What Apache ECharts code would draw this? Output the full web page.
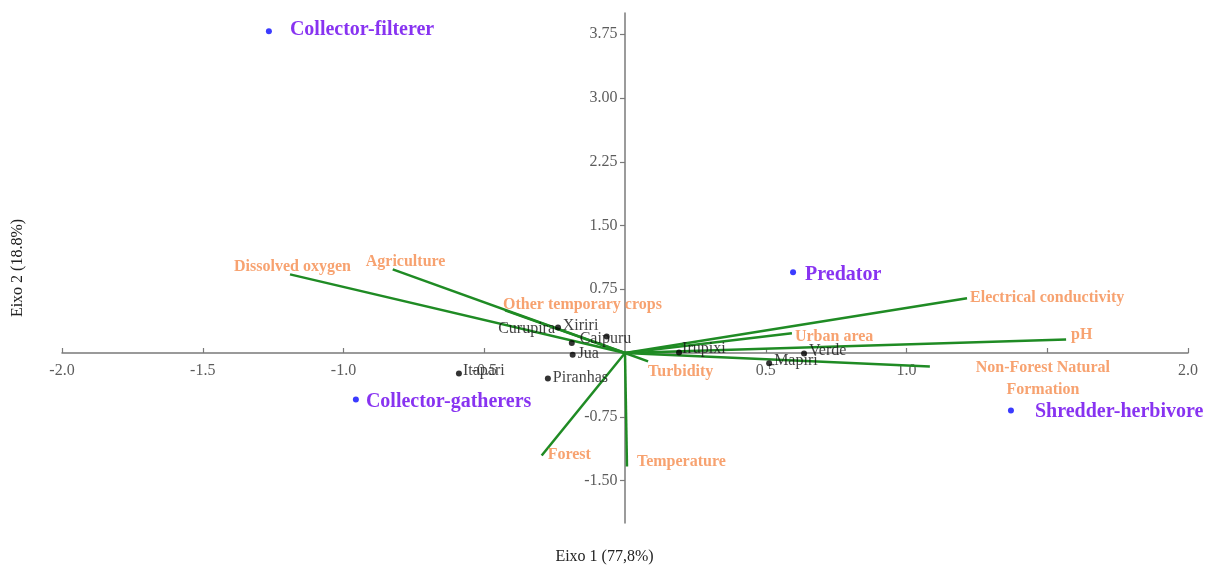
<!DOCTYPE html>
<html>
<head>
<meta charset="utf-8">
<script src="https://cdn.jsdelivr.net/npm/echarts@6/dist/echarts.min.js"></script>
<style>
html,body{margin:0;padding:0;background:#fff;}
#chart{width:1209px;height:568px;}
</style>
</head>
<body>
<div id="chart"></div>
<script>
// ---- data ----
const sites = ['Curupira','Xiriri','Caipuru','Jua','Piranhas','Itapari','Irupixi','Verde','Mapiri'];
const siteX = [-0.238,-0.189,-0.065,-0.186,-0.274,-0.590,0.192,0.636,0.512];
const siteY = [0.301,0.117,0.195,-0.020,-0.299,-0.240,0.007,-0.005,-0.122];

const groups = ['Collector-filterer','Predator','Collector-gatherers','Shredder-herbivore'];
const groupX = [-1.265,0.597,-0.956,1.371];
const groupY = [3.786,0.949,-0.546,-0.676];

const variables = ['Dissolved oxygen','Agriculture','Other temporary crops','Electrical conductivity','pH','Urban area','Non-Forest Natural\nFormation','Turbidity','Forest','Temperature'];
const varX = [-1.190,-0.825,-0.426,1.215,1.567,0.593,1.083,0.082,-0.296,0.007];
const varY = [0.925,0.984,0.502,0.643,0.160,0.231,-0.158,-0.099,-1.205,-1.335];

const xTicks = [-2,-1.5,-1,-0.5,0.5,1,1.5,2];
const yTicks = [-1.5,-0.75,0.75,1.5,2.25,3,3.75];
const xTicksCovered = [1.5]; // tick labels hidden under the "Non-Forest Natural" label

const xTitle = 'Eixo 1 (77,8%)';
const yTitle = 'Eixo 2 (18.8%)';

// ---- label layout (pixel offsets of text relative to point) ----
const siteLabelPos = [[-3,1,'right'],[-9,-17],[-27,2],[5,-1],[5,-1],[4,-3],[3,-4],[5,-3],[5,-3]];
const groupLabelPos = [[21,-1],[12,2],[10,2],[24,1]];
const varLabelPos = [[-56,-8],[-27,-8],[-2,-5],[3,0],[5,-5],[3,3],[113,12,'center'],[0,10],[6,-1],[10,-5]];

const FONT = '"Liberation Serif","Times New Roman",serif';
const GREEN = '#1f8b24';
const ORANGE = '#f58b4c';
const PURPLE = '#6a00ee';
const AXIS = '#7a7a7a';

function lbl(p, size){
  const align = p[2] || 'left';
  return {
    show:true, position:'right', distance:0, align:align, verticalAlign:'middle',
    offset:[p[0]-size/2, p[1]]
  };
}

const siteData = sites.map((n,i)=>({
  name:n, value:[siteX[i],siteY[i]],
  label: siteLabelPos[i][2]==='right'
    ? {show:true, position:'left', distance:0, align:'right', verticalAlign:'middle', offset:[siteLabelPos[i][0]+3, siteLabelPos[i][1]]}
    : lbl(siteLabelPos[i],6)
}));
const groupData = groups.map((n,i)=>({name:n, value:[groupX[i],groupY[i]], label:lbl(groupLabelPos[i],6)}));
const varLabelData = variables.map((n,i)=>({name:n, value:[varX[i],varY[i]], label:lbl(varLabelPos[i],1)}));
const vectorData = variables.map((n,i)=>({coords:[[0,0],[varX[i],varY[i]]]}));

// tick labels placed on the zero-crossing axes
const xTickLabelData = xTicks.map(v=>({name:v.toFixed(1), value:[v,0], label:{show: xTicksCovered.indexOf(v)<0}}));
const yTickLabelData = yTicks.map(v=>({name:v.toFixed(2), value:[0,v]}));

const chart = echarts.init(document.getElementById('chart'), null, {renderer:'canvas'});
chart.setOption({
  animation:false,
  backgroundColor:'#ffffff',
  grid:{left:62,right:21,top:13,bottom:45,containLabel:false},
  xAxis:{
    type:'value', min:-2, max:2,
    axisLine:{show:true,onZero:true,lineStyle:{color:AXIS,width:1.5}},
    axisTick:{show:true,inside:true,length:5,customValues:xTicks,lineStyle:{color:AXIS,width:1.2}},
    axisLabel:{show:false},
    splitLine:{show:false}
  },
  yAxis:{
    type:'value', min:-2, max:4,
    axisLine:{show:true,onZero:true,lineStyle:{color:AXIS,width:1.5}},
    axisTick:{show:true,inside:false,length:5,customValues:yTicks,lineStyle:{color:AXIS,width:1.2}},
    axisLabel:{show:false},
    splitLine:{show:false}
  },
  graphic:[
    {type:'text',left:'center',top:549,style:{text:xTitle,font:'16px '+FONT,fill:'#222'}},
    {type:'text',x:18,y:268,rotation:Math.PI/2,style:{text:yTitle,font:'16px '+FONT,fill:'#222',align:'center',verticalAlign:'middle'}}
  ],
  series:[
    {
      type:'scatter', z:2, symbolSize:1, silent:true, itemStyle:{color:'rgba(0,0,0,0)'},
      label:{show:true,position:'bottom',distance:9,color:'#333',fontFamily:FONT,fontSize:16,formatter:'{b}'},
      data:xTickLabelData
    },
    {
      type:'scatter', z:2, symbolSize:1, silent:true, itemStyle:{color:'rgba(0,0,0,0)'},
      label:{show:true,position:'left',distance:7,color:'#333',fontFamily:FONT,fontSize:16,formatter:'{b}'},
      data:yTickLabelData
    },
    {
      type:'lines', coordinateSystem:'cartesian2d', z:3, silent:true,
      lineStyle:{color:GREEN,width:2.5,opacity:1,curveness:0},
      data:vectorData
    },
    {
      type:'scatter', z:4, symbol:'circle', symbolSize:1, silent:true,
      itemStyle:{color:'rgba(0,0,0,0)'},
      label:{color:ORANGE,fontFamily:FONT,fontSize:16,fontWeight:'bold',lineHeight:22,formatter:'{b}'},
      data:varLabelData
    },
    {
      type:'scatter', z:5, symbol:'circle', symbolSize:6, silent:true,
      itemStyle:{color:'#000'},
      label:{color:'#111',fontFamily:FONT,fontSize:16,formatter:'{b}'},
      data:siteData
    },
    {
      type:'scatter', z:5, symbol:'circle', symbolSize:6, silent:true,
      itemStyle:{color:'#0a0aff'},
      label:{color:PURPLE,fontFamily:FONT,fontSize:20,fontWeight:'bold',formatter:'{b}'},
      data:groupData
    }
  ]
});
</script>
</body>
</html>
